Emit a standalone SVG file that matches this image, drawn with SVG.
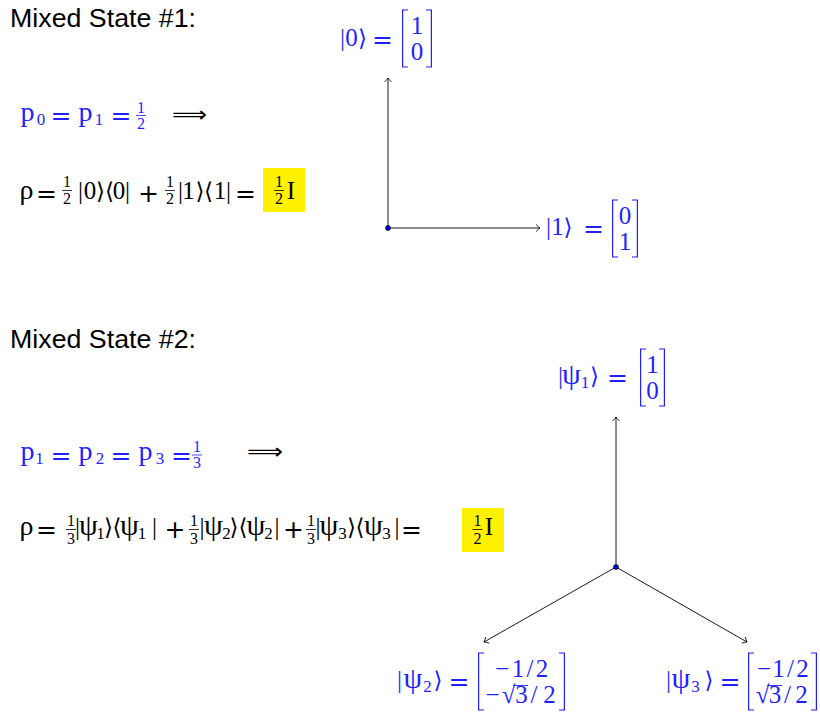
<svg xmlns="http://www.w3.org/2000/svg" width="820" height="713" viewBox="0 0 820 713">
<style>
.h{font-family:"Liberation Sans",Arial,sans-serif;font-size:25px;fill:#000}
.t{font-family:"Liberation Serif","DejaVu Serif",serif;font-size:25px;text-anchor:middle}
.L{font-size:28px}
.P{font-size:30px}
.o{font-family:"DejaVu Sans",sans-serif;font-size:25px}
.a{font-family:"DejaVu Sans",sans-serif;font-size:23px}
.s{font-size:17px}
.f{font-size:16px}
.bl{fill:#1f1fff}
.bk{fill:#000}
.bbar{stroke:#1f1fff;stroke-width:0.8}
.kbar{stroke:#000;stroke-width:0.8}
.br{fill:none;stroke:#1f1fff;stroke-width:1.2}
.hl{fill:#fff100}
.ax{stroke:#000;stroke-width:0.9;fill:none;marker-end:url(#ah)}
.dot{fill:#0000c8;stroke:#000;stroke-width:0.6}
.ov{stroke:#1f1fff;stroke-width:0.9}
.arr{font-family:"DejaVu Sans",sans-serif;font-size:22px;text-anchor:middle;fill:#000}
</style>
<defs>
<marker id="ah" markerUnits="userSpaceOnUse" markerWidth="10" markerHeight="10" viewBox="-5 -5 6 10" refX="0" refY="0" orient="auto">
<path d="M-4,-3.5 Q-1.5,-1 0,0 Q-1.5,1 -4,3.5" fill="none" stroke="#000" stroke-width="0.8"/>
</marker>
</defs>
<rect width="820" height="713" fill="#fff"/>

<g id="title1"><text class="h" x="10" y="27" textLength="186" lengthAdjust="spacingAndGlyphs">Mixed State #1:</text></g>
<g id="title2"><text class="h" x="10" y="348" textLength="186" lengthAdjust="spacingAndGlyphs">Mixed State #2:</text></g>

<g id="probs1">
<text class="t bl"><tspan class="L" x="27.5" y="121">p</tspan><tspan class="s" x="41" y="125">0</tspan><tspan class="o" x="61" y="123.5">=</tspan><tspan class="L" x="85.5" y="121">p</tspan><tspan class="s" x="99" y="125">1</tspan><tspan class="o" x="121" y="123.5">=</tspan><tspan class="f" x="141" y="112.5">1</tspan><tspan class="f" x="141" y="128.5">2</tspan></text>
<line class="bbar" x1="136" y1="115.5" x2="146" y2="115.5"/>
<text class="arr" x="189.5" y="122" textLength="35" lengthAdjust="spacingAndGlyphs">⟹</text>
</g>

<g id="rho1">
<text class="t bk"><tspan class="L" x="26.5" y="199">ρ</tspan><tspan class="o" x="46.5" y="201.5">=</tspan><tspan class="f" x="67" y="187">1</tspan><tspan class="f" x="67" y="203.5">2</tspan><tspan x="80.5" y="199">|</tspan><tspan x="90" y="199">0</tspan><tspan class="a" x="100.5" y="199">⟩</tspan><tspan class="a" x="109.5" y="199">⟨</tspan><tspan x="119" y="199">0</tspan><tspan x="127.5" y="199">|</tspan><tspan class="o" x="148.5" y="201.5">+</tspan><tspan class="f" x="170" y="187">1</tspan><tspan class="f" x="170" y="203.5">2</tspan><tspan x="180.5" y="199">|</tspan><tspan x="188.5" y="199">1</tspan><tspan class="a" x="200" y="199">⟩</tspan><tspan class="a" x="208.5" y="199">⟨</tspan><tspan x="220" y="199">1</tspan><tspan x="228.5" y="199">|</tspan><tspan class="o" x="245.5" y="201.5">=</tspan></text>
<line class="kbar" x1="62" y1="190.5" x2="72" y2="190.5"/>
<line class="kbar" x1="165" y1="190.5" x2="175" y2="190.5"/>
<rect class="hl" x="263" y="168" width="42" height="44"/>
<text class="t bk"><tspan class="f" x="279" y="187">1</tspan><tspan class="f" x="279" y="203.5">2</tspan><tspan x="291" y="199">I</tspan></text>
<line class="kbar" x1="274" y1="190.5" x2="284" y2="190.5"/>
</g>

<g id="probs2">
<text class="t bl"><tspan class="L" x="27.5" y="460">p</tspan><tspan class="s" x="39.5" y="464">1</tspan><tspan class="o" x="61" y="463.5">=</tspan><tspan class="L" x="85.5" y="460">p</tspan><tspan class="s" x="100" y="464">2</tspan><tspan class="o" x="121" y="463.5">=</tspan><tspan class="L" x="145.5" y="460">p</tspan><tspan class="s" x="160" y="464">3</tspan><tspan class="o" x="181.5" y="463.5">=</tspan><tspan class="f" x="197" y="452">1</tspan><tspan class="f" x="197" y="468">3</tspan></text>
<line class="bbar" x1="192" y1="455" x2="202" y2="455"/>
<text class="arr" x="265" y="459" textLength="36" lengthAdjust="spacingAndGlyphs">⟹</text>
</g>

<g id="rho2">
<text class="t bk"><tspan class="L" x="26.5" y="535">ρ</tspan><tspan class="o" x="46.5" y="537.5">=</tspan><tspan class="f" x="71" y="526">1</tspan><tspan class="f" x="71" y="543.5">3</tspan><tspan x="77.5" y="535">|</tspan><tspan class="P" x="88.5" y="535">ψ</tspan><tspan class="s" x="100.5" y="539">1</tspan><tspan class="a" x="108.5" y="535">⟩</tspan><tspan class="a" x="117" y="535">⟨</tspan><tspan class="P" x="129.5" y="535">ψ</tspan><tspan class="s" x="142" y="539">1</tspan><tspan x="154.5" y="535">|</tspan><tspan class="o" x="175" y="537.5">+</tspan><tspan class="f" x="194" y="526">1</tspan><tspan class="f" x="194" y="543.5">3</tspan><tspan x="202" y="535">|</tspan><tspan class="P" x="213.5" y="535">ψ</tspan><tspan class="s" x="226.5" y="539">2</tspan><tspan class="a" x="234" y="535">⟩</tspan><tspan class="a" x="243" y="535">⟨</tspan><tspan class="P" x="256" y="535">ψ</tspan><tspan class="s" x="268.5" y="539">2</tspan><tspan x="277" y="535">|</tspan><tspan class="o" x="293.5" y="537.5">+</tspan><tspan class="f" x="311" y="526">1</tspan><tspan class="f" x="311" y="543.5">3</tspan><tspan x="318" y="535">|</tspan><tspan class="P" x="329" y="535">ψ</tspan><tspan class="s" x="342.5" y="539">3</tspan><tspan class="a" x="351.5" y="535">⟩</tspan><tspan class="a" x="360" y="535">⟨</tspan><tspan class="P" x="373.5" y="535">ψ</tspan><tspan class="s" x="386.5" y="539">3</tspan><tspan x="397" y="535">|</tspan><tspan class="o" x="411.5" y="537.5">=</tspan></text>
<line class="kbar" x1="66" y1="529.5" x2="76" y2="529.5"/>
<line class="kbar" x1="189" y1="529.5" x2="199" y2="529.5"/>
<line class="kbar" x1="306" y1="529.5" x2="316" y2="529.5"/>
<rect class="hl" x="462" y="508" width="42" height="44"/>
<text class="t bk"><tspan class="f" x="477.5" y="526">1</tspan><tspan class="f" x="477.5" y="543.5">2</tspan><tspan x="489" y="535">I</tspan></text>
<line class="kbar" x1="472.5" y1="529.5" x2="482.5" y2="529.5"/>
</g>

<g id="connectors">
<line class="ax" x1="388" y1="228" x2="388" y2="78"/>
<line class="ax" x1="388" y1="228" x2="540" y2="228"/>
<line class="ax" x1="616" y1="567" x2="616" y2="417"/>
<line class="ax" x1="616" y1="567" x2="484" y2="642"/>
<line class="ax" x1="616" y1="567" x2="747" y2="642"/>
</g>

<g id="origin1"><circle class="dot" cx="388" cy="228" r="2.5"/></g>
<g id="origin2"><circle class="dot" cx="616" cy="567" r="2.5"/></g>

<g id="ket0">
<text class="t bl"><tspan x="342.5" y="46">|</tspan><tspan x="351.5" y="46">0</tspan><tspan class="a" x="362.5" y="46">⟩</tspan><tspan class="o" x="382.5" y="48">=</tspan><tspan x="417" y="34">1</tspan><tspan x="417" y="60">0</tspan></text>
<path class="br" d="M408,10 H402.6 V67 H408 M426,10 H431.4 V67 H426"/>
</g>

<g id="ket1">
<text class="t bl"><tspan x="548.5" y="235">|</tspan><tspan x="557.5" y="235">1</tspan><tspan class="a" x="568" y="235">⟩</tspan><tspan class="o" x="593.5" y="237">=</tspan><tspan x="625" y="224">0</tspan><tspan x="625" y="250">1</tspan></text>
<path class="br" d="M618,200 H612.6 V257 H618 M632,200 H637.4 V257 H632"/>
</g>

<g id="psi1">
<text class="t bl"><tspan x="560.5" y="384">|</tspan><tspan class="P" x="571.5" y="384">ψ</tspan><tspan class="s" x="585" y="388">1</tspan><tspan class="a" x="594.5" y="384">⟩</tspan><tspan class="o" x="617.5" y="386">=</tspan><tspan x="652.5" y="373">1</tspan><tspan x="652.5" y="399">0</tspan></text>
<path class="br" d="M646,349 H640.6 V406 H646 M659,349 H664.4 V406 H659"/>
</g>

<g id="psi2">
<text class="t bl"><tspan x="399.5" y="688">|</tspan><tspan class="P" x="413" y="688">ψ</tspan><tspan class="s" x="427.5" y="692">2</tspan><tspan class="a" x="438" y="688">⟩</tspan><tspan class="o" x="459" y="690">=</tspan><tspan x="502" y="677">−</tspan><tspan x="518" y="677">1</tspan><tspan x="530" y="677">/</tspan><tspan x="542" y="677">2</tspan><tspan x="492.5" y="703">−</tspan><tspan x="508.5" y="703">√</tspan><tspan x="521.5" y="703">3</tspan><tspan x="534" y="703">/</tspan><tspan x="549.5" y="703">2</tspan></text>
<line class="ov" x1="513" y1="685.5" x2="528" y2="685.5"/>
<path class="br" d="M484,653 H478.6 V710 H484 M559,653 H564.4 V710 H559"/>
</g>

<g id="psi3">
<text class="t bl"><tspan x="668.5" y="688">|</tspan><tspan class="P" x="681" y="688">ψ</tspan><tspan class="s" x="695.5" y="692">3</tspan><tspan class="a" x="709" y="688">⟩</tspan><tspan class="o" x="730" y="690">=</tspan><tspan x="764" y="677">−</tspan><tspan x="778.5" y="677">1</tspan><tspan x="790.5" y="677">/</tspan><tspan x="802.5" y="677">2</tspan><tspan x="762.5" y="703">√</tspan><tspan x="775" y="703">3</tspan><tspan x="787.5" y="703">/</tspan><tspan x="801.5" y="703">2</tspan></text>
<line class="ov" x1="767" y1="685.5" x2="782" y2="685.5"/>
<path class="br" d="M754,653 H748.6 V710 H754 M811,653 H816.4 V710 H811"/>
</g>
</svg>
